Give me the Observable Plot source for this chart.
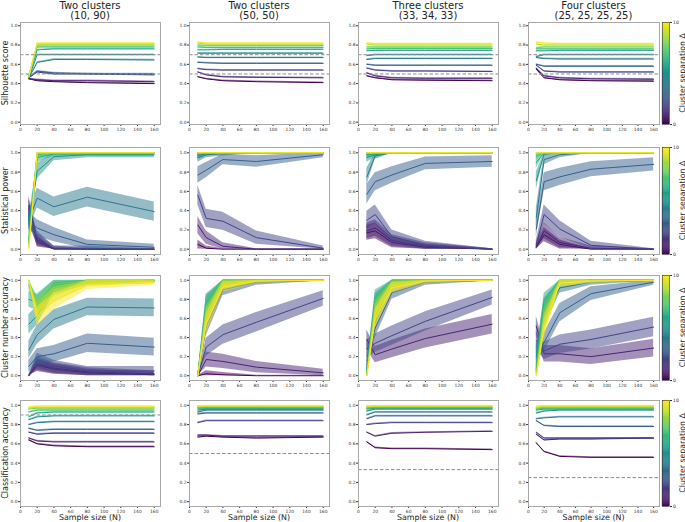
<!DOCTYPE html>
<html><head><meta charset="utf-8">
<script src="https://cdn.jsdelivr.net/npm/d3@7"></script>
<script src="https://cdn.jsdelivr.net/npm/@observablehq/plot@0.6"></script>
<style>
body{margin:0;background:#fff;}
#fig{position:relative;width:685px;height:522px;overflow:hidden;background:#fff;}
#fig > svg, #fig > figure{position:absolute;margin:0;}
</style></head><body><div id="fig"></div>
<script>
// ---------------- DATA ----------------
const sampleSizes = [10, 20, 40, 80, 160];
const separations = [0, 1, 2, 3, 4, 5, 6, 7, 8, 9, 10];
const columnTitles = [["Two clusters", "(10, 90)"], ["Two clusters", "(50, 50)"], ["Three clusters", "(33, 34, 33)"], ["Four clusters", "(25, 25, 25, 25)"]];
const rowLabels = ["Silhouette score", "Statistical power", "Cluster number accuracy", "Classification accuracy"];
const xTicks = [0, 20, 40, 60, 80, 100, 120, 140, 160];
const yTicks = [0, 0.2, 0.4, 0.6, 0.8, 1.0];
const silhouetteRefs = [0.5, 0.7];
const chanceLevels = [0.9, 0.5, 0.333, 0.25];

// [column][separation][sample size]; null = series not visible in the chart
const silhouette = [
 [[0.45,0.43,0.42,0.41,0.40],[0.45,0.44,0.43,0.43,0.42],[0.46,0.52,0.50,0.50,0.49],[0.46,0.53,0.51,0.50,0.50],[0.46,0.62,0.65,0.65,0.645],[0.46,0.70,0.70,0.70,0.70],[0.47,0.75,0.76,0.76,0.76],[0.47,0.78,0.78,0.78,0.78],[0.47,0.80,0.80,0.80,0.80],[0.47,0.81,0.81,0.81,0.81],[0.47,0.82,0.82,0.82,0.82]],
 [[0.47,0.45,0.43,0.42,0.41],[0.52,0.49,0.47,0.465,0.46],[0.555,0.545,0.54,0.54,0.54],[0.62,0.615,0.61,0.61,0.61],[0.675,0.67,0.67,0.67,0.67],[0.715,0.715,0.715,0.715,0.715],[0.75,0.75,0.755,0.755,0.755],[0.78,0.775,0.775,0.775,0.775],[0.80,0.795,0.795,0.795,0.795],[0.82,0.81,0.81,0.81,0.81],[0.83,0.82,0.82,0.82,0.82]],
 [[0.48,0.46,0.44,0.435,0.43],[0.51,0.48,0.46,0.455,0.455],[0.56,0.54,0.53,0.53,0.525],[0.60,0.59,0.59,0.59,0.59],[0.65,0.66,0.66,0.66,0.66],[0.69,0.70,0.70,0.70,0.70],[0.74,0.745,0.745,0.745,0.745],[0.76,0.765,0.765,0.765,0.765],[0.78,0.78,0.78,0.78,0.78],[0.81,0.80,0.80,0.80,0.80],[0.82,0.815,0.815,0.815,0.815]],
 [[0.55,0.46,0.44,0.43,0.425],[0.56,0.48,0.46,0.45,0.445],[0.59,0.53,0.52,0.52,0.52],[0.60,0.58,0.58,0.58,0.58],[0.67,0.66,0.655,0.655,0.655],[0.68,0.70,0.70,0.70,0.70],[0.74,0.74,0.745,0.745,0.745],[0.76,0.76,0.76,0.76,0.76],[0.77,0.78,0.78,0.78,0.78],[0.81,0.80,0.80,0.80,0.80],[0.83,0.82,0.815,0.815,0.815]]
];
const power = [
 [[0.42,0.08,0.0,0.0,0.0],[0.45,0.10,0.01,0.0,0.0],[0.35,0.12,0.01,0.01,0.0],[0.30,0.22,0.15,0.05,0.02],[0.30,0.53,0.44,0.54,0.39],[0.25,0.81,0.96,0.98,0.98],[0.10,0.95,0.99,0.99,0.99],[0.07,0.98,1,1,1],[0.05,1,1,1,1],[0.02,1,1,1,1],[0.0,1,1,1,1]],
 [[0.05,0.01,0,0,0],[0.25,0.12,0.03,0.0,0.0],[0.56,0.32,0.29,0.12,0.01],[0.77,0.82,0.93,0.91,0.98],[0.95,0.98,0.99,1,1],[0.97,0.99,1,1,1],[0.99,1,1,1,1],[1,1,1,1,1],[1,1,1,1,1],[1,1,1,1,1],[1,1,1,1,1]],
 [[0.17,0.19,0.07,0.02,0.0],[0.19,0.22,0.09,0.03,0.0],[0.30,0.36,0.13,0.04,0.0],[0.57,0.70,0.77,0.89,0.91],[0.75,0.97,1,1,1],[0.95,0.98,1,1,1],[0.98,0.99,1,1,1],[1,1,1,1,1],[1,1,1,1,1],[1,1,1,1,1],[1,1,1,1,1]],
 [[0.02,0.15,0.05,0.0,0.0],[0.03,0.19,0.07,0.01,0.0],[0.05,0.36,0.21,0.04,0.0],[0.21,0.70,0.75,0.83,0.88],[0.33,0.93,0.98,1.0,1.0],[0.71,0.99,1,1,1],[0.90,1,1,1,1],[0.97,1,1,1,1],[0.99,1,1,1,1],[1,1,1,1,1],[1,1,1,1,1]]
];
const clusterAccuracy = [
 [[0.0,0.11,0.07,0.03,0.01],[0.0,0.13,0.08,0.04,0.02],[0.0,0.16,0.10,0.05,0.05],[0.10,0.20,0.23,0.34,0.30],[0.27,0.43,0.59,0.72,0.71],[0.54,0.63,0.92,0.98,0.99],[0.80,0.77,0.95,0.99,1.0],[0.95,0.75,0.97,1.0,1.0],[1.0,0.72,0.90,0.99,1.0],[1.0,0.67,0.85,0.97,0.99],[1.0,0.62,0.78,0.95,0.98]],
 [[0.0,0.02,0.01,0.0,0.0],[0.0,0.17,0.15,0.09,0.03],[0.0,0.30,0.43,0.56,0.81],[0.0,0.52,0.90,0.98,1.0],[0.0,0.65,0.98,1.0,1.0],[0.0,0.75,1.0,1.0,1.0],[0.0,0.77,1.0,1.0,1.0],[0.0,0.72,0.99,1.0,1.0],[0.0,0.65,0.97,1.0,1.0],[0.0,0.60,0.95,1.0,1.0],[0.0,0.55,0.93,0.99,1.0]],
 [null,[0.38,0.22,0.28,0.39,0.54],[0.28,0.34,0.42,0.57,0.82],[0.16,0.50,0.87,0.98,1.0],[0.07,0.62,0.97,1.0,1.0],[0.05,0.78,1.0,1.0,1.0],[0.03,0.82,1.0,1.0,1.0],[0.02,0.75,0.98,1.0,1.0],[0.01,0.70,0.96,1.0,1.0],[0.0,0.65,0.94,1.0,1.0],[0.0,0.60,0.92,0.99,1.0]],
 [null,[0.52,0.23,0.23,0.20,0.29],[0.37,0.26,0.33,0.38,0.51],[0.25,0.35,0.66,0.86,0.98],[0.07,0.60,0.92,0.98,1.0],[0.20,0.72,0.98,1.0,1.0],[0.10,0.78,1.0,1.0,1.0],[0.05,0.70,0.99,1.0,1.0],[0.02,0.62,0.98,1.0,1.0],[0.0,0.55,0.97,1.0,1.0],[0.0,0.50,0.97,0.99,1.0]]
];
const classificationAccuracy = [
 [[0.64,0.60,0.58,0.57,0.57],[0.66,0.63,0.62,0.62,0.62],[0.72,0.70,0.71,0.71,0.71],[0.76,0.74,0.75,0.75,0.75],[0.80,0.82,0.83,0.83,0.83],[0.85,0.88,0.89,0.89,0.89],[0.88,0.92,0.93,0.93,0.93],[0.93,0.95,0.95,0.95,0.95],[0.96,0.97,0.97,0.97,0.97],[0.97,0.98,0.98,0.98,0.98],[0.98,0.99,0.99,0.99,0.99]],
 [[0.67,0.68,0.67,0.66,0.67],[0.69,0.69,0.68,0.68,0.68],[0.82,0.84,0.84,0.84,0.84],[0.91,0.92,0.92,0.92,0.92],[0.93,0.95,0.95,0.95,0.95],[0.95,0.96,0.96,0.96,0.96],[0.97,0.97,0.97,0.97,0.97],[0.98,0.98,0.98,0.98,0.98],[0.98,0.985,0.985,0.985,0.985],[0.99,0.99,0.99,0.99,0.99],[0.99,0.995,0.995,0.995,0.995]],
 [[0.62,0.56,0.55,0.55,0.54],[0.72,0.68,0.71,0.72,0.73],[0.80,0.81,0.82,0.82,0.82],[0.86,0.89,0.89,0.89,0.89],[0.90,0.93,0.93,0.93,0.93],[0.94,0.96,0.96,0.96,0.96],[0.96,0.97,0.97,0.97,0.97],[0.97,0.98,0.98,0.98,0.98],[0.98,0.985,0.985,0.985,0.985],[0.99,0.99,0.99,0.99,0.99],[0.99,0.995,0.995,0.995,0.995]],
 [[0.61,0.52,0.47,0.46,0.46],[0.70,0.64,0.65,0.65,0.66],[0.72,0.66,0.66,0.66,0.66],[0.84,0.79,0.78,0.78,0.78],[0.86,0.87,0.88,0.88,0.88],[0.92,0.94,0.95,0.95,0.95],[0.95,0.96,0.96,0.96,0.96],[0.96,0.97,0.97,0.97,0.97],[0.97,0.98,0.98,0.98,0.98],[0.98,0.99,0.99,0.99,0.99],[0.99,0.995,0.995,0.995,0.995]]
];

// ---------------- LAYOUT ----------------
const metrics = [silhouette, power, clusterAccuracy, classificationAccuracy];
const proportionRow = [false, true, true, false];
const colFrames = [[20,160],[189,329],[358,498],[528,659]];
const rowFrames = [[22,124],[147,254],[275,380],[400,506]];
const rowDomains = [[-0.024,1.034],[-0.055,1.055],[-0.05,1.05],[-0.05,1.05]];
const FONT = "DejaVu Sans";
const colorScale = {type: "linear", scheme: "viridis", domain: [0, 10]};
const fig = document.getElementById("fig");

function place(el, left, top) {
  el.style.position = "absolute";
  el.style.left = left + "px";
  el.style.top = top + "px";
  fig.appendChild(el);
}

function panel(ri, ci) {
  const [x0, x1] = colFrames[ci], [y0, y1] = rowFrames[ri];
  const ML = 14, MR = 3, MT = 3, MB = 10;
  const vals = metrics[ri][ci];
  const marks = [];
  separations.forEach((s, k) => {
    if (!vals[k]) return;
    const rows = sampleSizes.map((n, j) => {
      const v = vals[k][j];
      const h = proportionRow[ri] ? 1.96 * Math.sqrt(v * (1 - v) / 100) + 0.004 : 0.007;
      return {N: n, v, lo: Math.max(0, v - h), hi: Math.min(1, v + h), s};
    });
    marks.push(Plot.areaY(rows, {x: "N", y1: "lo", y2: "hi", fill: "s", fillOpacity: 0.5}));
    marks.push(Plot.lineY(rows, {x: "N", y: "v", stroke: "s", strokeWidth: 1}));
  });
  let refs = [];
  if (ri === 0) refs = silhouetteRefs;
  if (ri === 3) refs = [chanceLevels[ci]];
  marks.push(Plot.ruleY(refs, {stroke: "#8c8c8c", strokeWidth: 1, strokeDasharray: "3.5,2"}));
  marks.push(Plot.axisX({ticks: xTicks, tickSize: 2, tickPadding: 1, tickFormat: d => String(d), label: null}));
  marks.push(Plot.axisY({ticks: yTicks, tickSize: 2, tickPadding: 1, tickFormat: d3.format(".1f"), label: null}));
  marks.push(Plot.frame({stroke: "#a8a8a8", strokeWidth: 1}));
  const chart = Plot.plot({
    width: x1 - x0 + ML + MR, height: y1 - y0 + MT + MB,
    marginLeft: ML, marginRight: MR, marginTop: MT, marginBottom: MB,
    x: {domain: [0, 167.5]}, y: {domain: rowDomains[ri]},
    color: colorScale,
    style: {fontFamily: FONT, fontSize: "4.4px", color: "#333", background: "transparent", overflow: "visible"},
    marks
  });
  place(chart, x0 - ML, y0 - MT);
}

function colorbar(ri) {
  const [y0, y1] = rowFrames[ri];
  const steps = d3.range(0, 10, 0.1);
  const MT = 3, MB = 3;
  const chart = Plot.plot({
    width: 24, height: y1 - y0 + MT + MB,
    marginLeft: 0, marginRight: 17, marginTop: MT, marginBottom: MB,
    x: {domain: [0, 1], axis: null}, y: {domain: [0, 10], axis: null},
    color: colorScale,
    style: {fontFamily: FONT, fontSize: "4.6px", color: "#333", background: "transparent", overflow: "visible"},
    marks: [
      Plot.rect(steps, {x1: 0, x2: 1, y1: d => d, y2: d => d + 0.1, fill: d => d + 0.05, stroke: d => d + 0.05, strokeWidth: 0.3}),
      Plot.axisY({anchor: "right", ticks: [0, 10], tickSize: 2, tickPadding: 1.5, tickFormat: d => String(d), label: null}),
      Plot.frame({stroke: "#333", strokeWidth: 0.6})
    ]
  });
  place(chart, 662, y0 - MT);
}

for (let ri = 0; ri < 4; ri++) {
  for (let ci = 0; ci < 4; ci++) panel(ri, ci);
  colorbar(ri);
}

// ---------------- TEXT OVERLAY ----------------
const svg = d3.create("svg").attr("width", 685).attr("height", 522)
  .style("position", "absolute").style("left", "0px").style("top", "0px")
  .style("pointer-events", "none").style("font-family", FONT).attr("fill", "#222");
columnTitles.forEach((t, ci) => {
  const cx = (colFrames[ci][0] + colFrames[ci][1]) / 2;
  svg.append("text").attr("x", cx).attr("y", 8.5).attr("text-anchor", "middle").attr("font-size", 10).text(t[0]);
  svg.append("text").attr("x", cx).attr("y", 18.5).attr("text-anchor", "middle").attr("font-size", 10).text(t[1]);
  svg.append("text").attr("x", cx).attr("y", 520).attr("text-anchor", "middle").attr("font-size", 7.9).text("Sample size (N)");
});
rowLabels.forEach((t, ri) => {
  const cy = (rowFrames[ri][0] + rowFrames[ri][1]) / 2;
  svg.append("text").attr("transform", `translate(8,${cy}) rotate(-90)`).attr("text-anchor", "middle").attr("font-size", 8).text(t);
  svg.append("text").attr("transform", `translate(684.5,${cy}) rotate(-90)`).attr("text-anchor", "middle").attr("font-size", 7.8).text("Cluster separation Δ");
});
fig.appendChild(svg.node());
</script>
</body></html>
